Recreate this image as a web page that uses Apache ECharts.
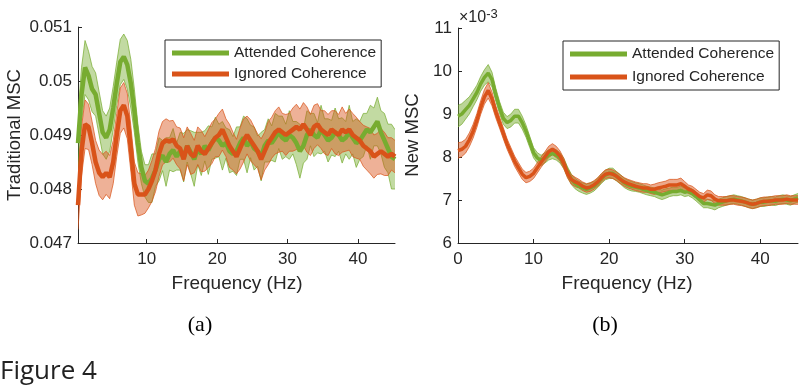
<!DOCTYPE html>
<html>
<head>
<meta charset="utf-8">
<script src="https://cdn.jsdelivr.net/npm/echarts@6/dist/echarts.min.js"></script>
<style>html,body{margin:0;padding:0;background:#fff}#c{width:800px;height:391px}</style>
</head>
<body>
<div id="c"></div>
<script>
// ---------- Panel (a): Traditional MSC ----------
var freqA = [0.25,0.75,1.25,1.75,2.25,2.75,3.25,3.75,4.25,4.75,5.25,5.75,6.25,6.75,7.25,7.75,8.25,8.75,9.25,9.75,
10.25,10.75,11.25,11.75,12.25,12.75,13.25,13.75,14.25,14.75,15.25,15.75,16.25,16.75,17.25,17.75,18.25,18.75,19.25,19.75,
20.25,20.75,21.25,21.75,22.25,22.75,23.25,23.75,24.25,24.75,25.25,25.75,26.25,26.75,27.25,27.75,28.25,28.75,29.25,29.75,
30.25,30.75,31.25,31.75,32.25,32.75,33.25,33.75,34.25,34.75,35.25,35.75,36.25,36.75,37.25,37.75,38.25,38.75,39.25,39.75,
40.25,40.75,41.25,41.75,42.25,42.75,43.25,43.75,44.25,44.75,45.25];
var attendedMeanA = [0.04885,0.04975,0.05025,0.05010,0.04985,0.04975,0.04940,0.04905,0.04895,0.04910,0.04950,0.04995,0.05035,0.05045,0.05030,0.04995,0.04945,0.04885,0.04840,0.04815,
0.04810,0.04820,0.04835,0.04855,0.04862,0.04850,0.04865,0.04872,0.04860,0.04870,0.04858,0.04880,0.04868,0.04855,0.04875,0.04865,0.04880,0.04872,0.04885,0.04895,
0.04890,0.04880,0.04885,0.04870,0.04865,0.04870,0.04885,0.04895,0.04880,0.04888,0.04875,0.04870,0.04860,0.04880,0.04890,0.04885,0.04895,0.04905,0.04895,0.04890,
0.04900,0.04895,0.04885,0.04870,0.04880,0.04900,0.04910,0.04900,0.04895,0.04910,0.04900,0.04890,0.04895,0.04905,0.04900,0.04890,0.04895,0.04905,0.04895,0.04885,
0.04890,0.04900,0.04910,0.04905,0.04915,0.04925,0.04905,0.04890,0.04875,0.04860,0.04855];
var attendedErrA = [0.00050,0.00050,0.00050,0.00045,0.00042,0.00040,0.00040,0.00040,0.00040,0.00040,0.00040,0.00040,0.00042,0.00042,0.00045,0.00045,0.00040,0.00035,0.00030,0.00030,
0.00035,0.00045,0.00030,0.00040,0.00028,0.00045,0.00030,0.00040,0.00025,0.00035,0.00045,0.00030,0.00040,0.00050,0.00030,0.00040,0.00028,0.00045,0.00030,0.00038,
0.00030,0.00045,0.00028,0.00040,0.00032,0.00045,0.00030,0.00040,0.00050,0.00030,0.00040,0.00028,0.00045,0.00030,0.00040,0.00032,0.00045,0.00030,0.00040,0.00030,
0.00045,0.00030,0.00040,0.00050,0.00032,0.00045,0.00030,0.00040,0.00028,0.00045,0.00030,0.00040,0.00032,0.00045,0.00030,0.00042,0.00030,0.00050,0.00030,0.00045,
0.00035,0.00040,0.00030,0.00050,0.00035,0.00045,0.00040,0.00050,0.00045,0.00060,0.00055];
var ignoredMeanA = [0.04770,0.04870,0.04920,0.04915,0.04885,0.04850,0.04830,0.04822,0.04830,0.04822,0.04850,0.04900,0.04945,0.04955,0.04935,0.04875,0.04810,0.04790,0.04790,0.04790,
0.04800,0.04815,0.04835,0.04865,0.04885,0.04890,0.04888,0.04892,0.04880,0.04875,0.04855,0.04880,0.04865,0.04860,0.04880,0.04870,0.04865,0.04875,0.04885,0.04895,
0.04900,0.04910,0.04895,0.04880,0.04870,0.04860,0.04875,0.04890,0.04900,0.04890,0.04880,0.04870,0.04855,0.04870,0.04885,0.04895,0.04905,0.04910,0.04905,0.04900,
0.04905,0.04910,0.04915,0.04910,0.04920,0.04910,0.04900,0.04915,0.04920,0.04910,0.04905,0.04900,0.04910,0.04905,0.04900,0.04910,0.04905,0.04910,0.04900,0.04895,
0.04890,0.04880,0.04875,0.04870,0.04860,0.04865,0.04870,0.04865,0.04860,0.04865,0.04860];
var ignoredErrA = [0.00045,0.00045,0.00045,0.00042,0.00040,0.00040,0.00042,0.00042,0.00040,0.00040,0.00040,0.00040,0.00042,0.00042,0.00042,0.00042,0.00040,0.00040,0.00038,0.00035,
0.00035,0.00038,0.00040,0.00042,0.00040,0.00040,0.00038,0.00035,0.00035,0.00038,0.00040,0.00035,0.00038,0.00030,0.00035,0.00038,0.00032,0.00035,0.00038,0.00035,
0.00040,0.00038,0.00035,0.00040,0.00035,0.00032,0.00038,0.00040,0.00035,0.00038,0.00035,0.00032,0.00038,0.00035,0.00040,0.00038,0.00040,0.00042,0.00035,0.00038,
0.00035,0.00040,0.00042,0.00038,0.00040,0.00042,0.00038,0.00040,0.00038,0.00035,0.00040,0.00038,0.00035,0.00040,0.00038,0.00042,0.00035,0.00038,0.00040,0.00038,
0.00035,0.00038,0.00040,0.00042,0.00040,0.00038,0.00042,0.00040,0.00035,0.00030,0.00030];
var xTicksA = [10, 20, 30, 40];
var yTicksA = [0.047, 0.048, 0.049, 0.05, 0.051];

// ---------- Panel (b): New MSC (values in units of 1e-3) ----------
var freqB = [0,0.5,1,1.5,2,2.5,3,3.5,4,4.5,5,5.5,6,6.5,7,7.5,8,8.5,9,9.5,
10,10.5,11,11.5,12,12.5,13,13.5,14,14.5,15,15.5,16,16.5,17,17.5,18,18.5,19,19.5,
20,20.5,21,21.5,22,22.5,23,23.5,24,24.5,25,25.5,26,26.5,27,27.5,28,28.5,29,29.5,
30,30.5,31,31.5,32,32.5,33,33.5,34,34.5,35,35.5,36,36.5,37,37.5,38,38.5,39,39.5,
40,40.5,41,41.5,42,42.5,43,43.5,44,44.5,45];
var attendedMeanB = [8.95,9.00,9.10,9.20,9.35,9.50,9.70,9.85,9.95,9.80,9.45,9.15,8.90,8.80,8.85,8.95,8.95,8.80,8.60,8.35,
8.10,7.98,7.92,7.98,8.05,8.08,8.05,7.98,7.85,7.65,7.48,7.38,7.32,7.28,7.25,7.28,7.32,7.40,7.50,7.58,
7.62,7.62,7.55,7.48,7.40,7.35,7.32,7.30,7.28,7.25,7.22,7.20,7.18,7.15,7.12,7.15,7.18,7.20,7.20,7.22,
7.18,7.20,7.15,7.08,7.00,6.92,6.92,6.90,6.88,6.92,6.95,6.98,7.00,7.02,7.00,6.98,6.95,6.92,6.90,6.92,
6.95,6.95,6.97,6.98,6.97,7.00,7.02,7.00,6.98,7.02,7.05];
var attendedErrB = [0.25,0.24,0.22,0.20,0.18,0.17,0.17,0.18,0.20,0.17,0.15,0.14,0.14,0.14,0.15,0.16,0.16,0.15,0.14,0.13,
0.12,0.12,0.12,0.12,0.12,0.12,0.12,0.12,0.12,0.12,0.12,0.12,0.12,0.12,0.12,0.12,0.11,0.11,0.11,0.11,
0.12,0.12,0.11,0.11,0.11,0.11,0.11,0.10,0.10,0.10,0.10,0.10,0.10,0.11,0.11,0.11,0.10,0.10,0.10,0.10,
0.10,0.10,0.10,0.10,0.10,0.10,0.10,0.10,0.11,0.10,0.10,0.10,0.10,0.10,0.10,0.10,0.10,0.10,0.10,0.10,
0.10,0.10,0.10,0.10,0.10,0.10,0.10,0.10,0.10,0.10,0.10];
var ignoredMeanB = [8.15,8.18,8.25,8.40,8.60,8.85,9.15,9.40,9.55,9.35,9.05,8.80,8.55,8.30,8.10,7.90,7.75,7.60,7.52,7.55,
7.62,7.75,7.88,8.00,8.12,8.18,8.12,8.02,7.85,7.62,7.48,7.42,7.38,7.32,7.28,7.30,7.35,7.42,7.52,7.60,
7.62,7.60,7.55,7.48,7.42,7.38,7.35,7.32,7.30,7.28,7.28,7.25,7.25,7.28,7.30,7.32,7.35,7.35,7.35,7.38,
7.32,7.25,7.22,7.15,7.08,7.05,7.12,7.10,7.02,6.98,6.98,6.98,7.00,7.00,6.98,6.97,6.95,6.92,6.90,6.92,
6.95,6.97,6.97,6.98,7.00,7.00,7.00,7.02,7.00,7.00,7.00];
var ignoredErrB = [0.18,0.17,0.16,0.16,0.16,0.16,0.16,0.17,0.18,0.16,0.14,0.13,0.13,0.12,0.12,0.12,0.12,0.12,0.12,0.12,
0.12,0.12,0.12,0.12,0.13,0.13,0.13,0.12,0.12,0.11,0.11,0.11,0.10,0.10,0.10,0.10,0.10,0.10,0.10,0.10,
0.10,0.10,0.10,0.10,0.10,0.10,0.10,0.10,0.10,0.10,0.10,0.10,0.12,0.12,0.12,0.12,0.13,0.13,0.13,0.13,
0.11,0.10,0.10,0.10,0.10,0.10,0.11,0.11,0.10,0.10,0.10,0.10,0.10,0.10,0.10,0.10,0.10,0.10,0.10,0.10,
0.10,0.10,0.10,0.10,0.10,0.10,0.10,0.10,0.10,0.10,0.10];
var xTicksB = [0, 10, 20, 30, 40];
var yTicksB = [6, 7, 8, 9, 10, 11];

var seriesNames = ['Attended Coherence', 'Ignored Coherence'];

// ---------- Build ----------
var GREEN = '#77AC30', ORANGE = '#D95319', INK = '#262626';
var FONT = 'Liberation Sans';

// shaded error band drawn as one polygon through the axes' own coordinate mapping
function bandSeries(freq, mean, err, color, ax, fillOpacity) {
  var data = freq.map(function (f, i) { return [f, mean[i] - err[i], mean[i] + err[i]]; });
  return {
    type: 'custom', xAxisIndex: ax, yAxisIndex: ax, silent: true, z: 2,
    data: data, encode: { x: 0, y: [1, 2] }, clip: true,
    renderItem: function (params, api) {
      if (params.dataIndex !== 0) return null;
      var up = [], lo = [];
      for (var i = 0; i < data.length; i++) {
        up.push(api.coord([data[i][0], data[i][2]]));
        lo.push(api.coord([data[i][0], data[i][1]]));
      }
      var poly = up.concat(lo.slice().reverse());
      return {
        type: 'group',
        children: [
          { type: 'polygon', shape: { points: poly }, style: { fill: color, opacity: fillOpacity } },
          { type: 'polyline', shape: { points: up }, style: { stroke: color, lineWidth: 0.8, fill: null, opacity: 0.9 } },
          { type: 'polyline', shape: { points: lo }, style: { stroke: color, lineWidth: 0.8, fill: null, opacity: 0.9 } }
        ]
      };
    }
  };
}
function meanSeries(name, freq, mean, color, ax, w) {
  return { name: name, type: 'line', xAxisIndex: ax, yAxisIndex: ax, symbol: 'none', silent: true,
    data: freq.map(function (f, i) { return [f, mean[i]]; }),
    lineStyle: { color: color, width: w }, itemStyle: { color: color }, z: 3 };
}
function xAxisCfg(grid, min, max, ticks) {
  return {
    type: 'value', gridIndex: grid, min: min, max: max, splitNumber: 5,
    axisLine: { show: true, onZero: false, lineStyle: { color: INK, width: 1 } },
    axisTick: { show: true, inside: true, length: 4, lineStyle: { color: INK }, customValues: ticks },
    axisLabel: { color: INK, fontFamily: FONT, fontSize: 17, margin: 8, customValues: ticks,
      formatter: function (v) { return ticks.indexOf(Math.round(v * 1000) / 1000) >= 0 ? String(Math.round(v)) : ''; } },
    splitLine: { show: false }
  };
}
function yAxisCfg(grid, min, max, interval) {
  return {
    type: 'value', gridIndex: grid, min: min, max: max, interval: interval,
    axisLine: { show: true, onZero: false, lineStyle: { color: INK, width: 1 } },
    axisTick: { show: true, inside: true, length: 4, lineStyle: { color: INK } },
    axisLabel: { color: INK, fontFamily: FONT, fontSize: 17, margin: 6,
      formatter: function (v) { return String(Math.round(v * 100000) / 100000); } },
    splitLine: { show: false }
  };
}
function legendCfg(left, top, gap) {
  return {
    left: left, top: top, orient: 'vertical', data: seriesNames, selectedMode: false,
    icon: 'rect', itemWidth: 57, itemHeight: 5, itemGap: gap, itemStyle: { borderWidth: 0 },
    padding: [5, 5, 5, 7], backgroundColor: '#fff', borderColor: INK, borderWidth: 1,
    textStyle: { color: INK, fontFamily: FONT, fontSize: 15.5 }
  };
}

var series = [
  bandSeries(freqA, attendedMeanA, attendedErrA, GREEN, 0, 0.45),
  meanSeries(seriesNames[0], freqA, attendedMeanA, GREEN, 0, 4.5),
  bandSeries(freqA, ignoredMeanA, ignoredErrA, ORANGE, 0, 0.45),
  meanSeries(seriesNames[1], freqA, ignoredMeanA, ORANGE, 0, 4.5),
  bandSeries(freqB, attendedMeanB, attendedErrB, GREEN, 1, 0.5),
  meanSeries(seriesNames[0], freqB, attendedMeanB, GREEN, 1, 3.5),
  bandSeries(freqB, ignoredMeanB, ignoredErrB, ORANGE, 1, 0.5),
  meanSeries(seriesNames[1], freqB, ignoredMeanB, ORANGE, 1, 3.5)
];

var chart = echarts.init(document.getElementById('c'), null, { renderer: 'canvas' });
chart.setOption({
  backgroundColor: '#fff',
  animation: false,
  grid: [
    { left: 78, top: 27, width: 317, height: 216 },
    { left: 458, top: 28, width: 340, height: 215 }
  ],
  xAxis: [xAxisCfg(0, 0.25, 45.25, xTicksA), xAxisCfg(1, 0, 45, xTicksB)],
  yAxis: [yAxisCfg(0, yTicksA[0], yTicksA[yTicksA.length - 1], 0.001), yAxisCfg(1, yTicksB[0], yTicksB[yTicksB.length - 1], 1)],
  legend: [legendCfg(165, 40, 5), legendCfg(563, 41, 7)],
  series: series,
  graphic: [
    { type: 'text', x: 15, y: 135, rotation: Math.PI / 2,
      style: { text: 'Traditional MSC', fill: INK, font: '18.5px "Liberation Sans"', align: 'center', verticalAlign: 'middle' } },
    { type: 'text', x: 413, y: 135, rotation: Math.PI / 2,
      style: { text: 'New MSC', fill: INK, font: '18.5px "Liberation Sans"', align: 'center', verticalAlign: 'middle' } },
    { type: 'text', x: 237, y: 284,
      style: { text: 'Frequency (Hz)', fill: INK, font: '19px "Liberation Sans"', align: 'center', verticalAlign: 'middle' } },
    { type: 'text', x: 627, y: 284,
      style: { text: 'Frequency (Hz)', fill: INK, font: '19px "Liberation Sans"', align: 'center', verticalAlign: 'middle' } },
    { type: 'text', x: 459, y: 18,
      style: { text: '×10{s|-3}', fill: INK, font: '16px "Liberation Sans"', align: 'left', verticalAlign: 'middle',
        rich: { s: { fontSize: 13, fontFamily: FONT, fill: INK, verticalAlign: 'top', padding: [0, 0, 8, 0] } } } },
    { type: 'text', x: 200, y: 325,
      style: { text: '(a)', fill: '#000', font: '22px "Liberation Serif"', align: 'center', verticalAlign: 'middle' } },
    { type: 'text', x: 605, y: 325,
      style: { text: '(b)', fill: '#000', font: '22px "Liberation Serif"', align: 'center', verticalAlign: 'middle' } },
    { type: 'text', x: 0, y: 372,
      style: { text: 'Figure 4', fill: '#222', font: '26px "Open Sans"', align: 'left', verticalAlign: 'middle' } }
  ]
});
</script>
</body>
</html>
